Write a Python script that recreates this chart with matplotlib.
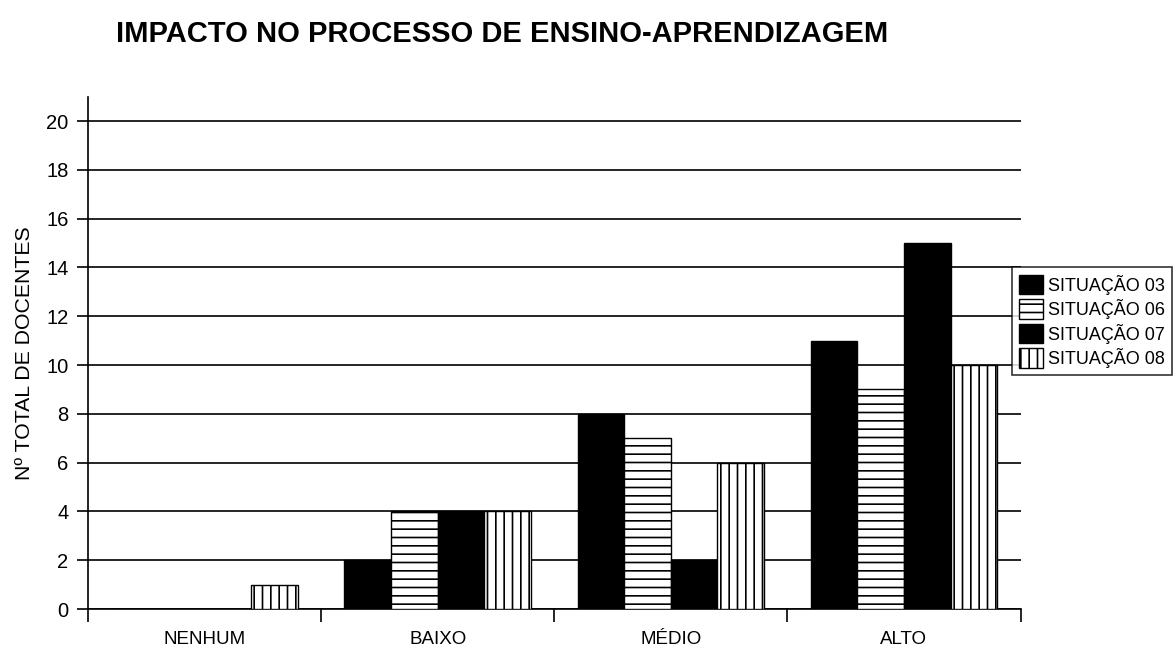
import numpy as np
import matplotlib.pyplot as plt

plt.rcParams['font.family'] = ['Liberation Sans', 'DejaVu Sans']
plt.rcParams['hatch.linewidth'] = 1.2

categorias = ['NENHUM', 'BAIXO', 'MÉDIO', 'ALTO']
series = ['SITUAÇÃO 03', 'SITUAÇÃO 06', 'SITUAÇÃO 07', 'SITUAÇÃO 08']
sit03 = [0, 2, 8, 11]
sit06 = [0, 4, 7, 9]
sit07 = [0, 4, 2, 15]
sit08 = [1, 4, 6, 10]

valores = [sit03, sit06, sit07, sit08]
cores = ['black', 'white', 'black', 'white']
hachuras = [None, '--', None, '||']

fig = plt.figure(figsize=(11.73, 6.51), dpi=100)
ax = fig.add_axes([0.075, 0.0645, 0.795, 0.787])

x = np.arange(len(categorias))
w = 0.2
for i, (vals, cor, h) in enumerate(zip(valores, cores, hachuras)):
    ax.bar(x - 0.3 + i * w, vals, w, color=cor, edgecolor='black',
           hatch=h, linewidth=1, label=series[i], zorder=3)

ax.set_xlim(-0.5, 3.5)
ax.set_ylim(0, 21)
ax.set_yticks(range(0, 21, 2))
ax.grid(axis='y', color='black', linewidth=1.2, zorder=0)

ax.set_xticks(x)
ax.set_xticklabels(categorias, fontsize=13.5)
ax.tick_params(axis='x', which='major', length=0, pad=16)
ax.set_xticks(np.arange(-0.5, 4, 1), minor=True)
ax.tick_params(axis='x', which='minor', length=9, width=1.2, direction='out')
ax.tick_params(axis='y', length=8, width=1.2, labelsize=14.5, pad=6,
               direction='out')

for s in ['top', 'right']:
    ax.spines[s].set_visible(False)
for s in ['left', 'bottom']:
    ax.spines[s].set_linewidth(1.2)

ax.set_ylabel('Nº TOTAL DE DOCENTES', fontsize=15.3)
ax.yaxis.set_label_coords(-0.058, 0.5)
fig.text(0.099, 0.948, 'IMPACTO NO PROCESSO DE ENSINO-APRENDIZAGEM',
         fontsize=21, fontweight='bold', va='center')

leg = ax.legend(loc='upper left', bbox_to_anchor=(0.991, 0.667), fontsize=13,
                frameon=True, fancybox=False, edgecolor='black',
                handlelength=1.3, handleheight=1.3, handletextpad=0.3,
                labelspacing=0.25, borderpad=0.4, borderaxespad=0)
leg.get_frame().set_linewidth(1.2)

plt.savefig('out.png', dpi=100)
